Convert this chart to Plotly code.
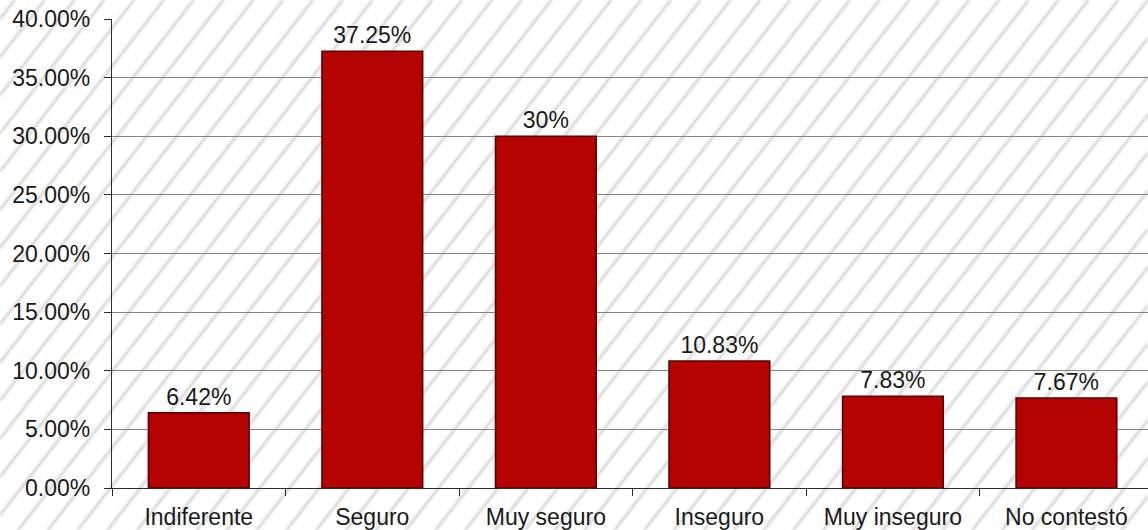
import base64
import plotly.graph_objects as go

categories = ["Indiferente", "Seguro", "Muy seguro", "Inseguro", "Muy inseguro", "No contestó"]
values = [6.42, 37.25, 30.0, 10.83, 7.83, 7.67]
labels = ["6.42%", "37.25%", "30%", "10.83%", "7.83%", "7.67%"]
y_ticks = [0, 5, 10, 15, 20, 25, 30, 35, 40]
y_tick_text = ["0.00%", "5.00%", "10.00%", "15.00%", "20.00%", "25.00%", "30.00%", "35.00%", "40.00%"]

W, H = 1148, 530
ML, MR, MT, MB = 112, 0, 19, 42
PW, PH = W - ML - MR, H - MT - MB

svg = f'''<svg xmlns="http://www.w3.org/2000/svg" width="{W}" height="{H}">
<defs>
<filter id="b"><feGaussianBlur stdDeviation="0.8"/></filter>
<pattern id="p" patternUnits="userSpaceOnUse" width="23.5" height="23.5" patternTransform="rotate(38)">
<rect x="10.5" y="-2" width="2.2" height="28" fill="#cdcdcd"/>
</pattern>
</defs>
<rect width="{W}" height="{H}" fill="#ffffff"/>
<rect width="{W}" height="{H}" fill="url(#p)" filter="url(#b)"/>
</svg>'''
src = "data:image/svg+xml;base64," + base64.b64encode(svg.encode()).decode()

FONT = "Liberation Sans, Arial"

fig = go.Figure()
fig.add_trace(go.Bar(
    x=categories,
    y=values,
    text=labels,
    textposition="outside",
    textfont=dict(family=FONT, size=23, color="#1a1a1a"),
    cliponaxis=False,
    width=0.58,
    marker=dict(color="#b30303", line=dict(color="#5e0000", width=1.6)),
    hoverinfo="x+y",
))

fig.update_layout(
    width=W, height=H,
    margin=dict(l=ML, r=MR, t=MT, b=MB, pad=0),
    paper_bgcolor="#ffffff",
    plot_bgcolor="rgba(0,0,0,0)",
    showlegend=False,
    font=dict(family=FONT, size=23, color="#1a1a1a"),
    images=[dict(
        source=src, xref="paper", yref="paper",
        x=-ML / PW, y=1 + MT / PH, sizex=W / PW, sizey=H / PH,
        xanchor="left", yanchor="top", sizing="stretch", layer="below",
    )],
    xaxis=dict(
        range=[-0.5, 5.47],
        showgrid=False,
        showline=True, linecolor="#2a2a2a", linewidth=1.3,
        ticks="outside", tickson="boundaries", ticklen=7, tickcolor="#2a2a2a",
        tickfont=dict(family=FONT, size=23, color="#1a1a1a"),
        ticklabelstandoff=8,
    ),
    yaxis=dict(
        range=[0, 40],
        tickvals=y_ticks, ticktext=y_tick_text,
        showgrid=True, gridcolor="#858585", gridwidth=1,
        showline=True, linecolor="#2a2a2a", linewidth=1.3,
        ticks="outside", ticklen=7, tickcolor="#2a2a2a",
        tickfont=dict(family=FONT, size=23, color="#1a1a1a"),
        ticklabelstandoff=9,
        zeroline=False,
    ),
)

fig.write_html(
    "out.html",
    config={"displayModeBar": False},
    post_script="document.body.style.margin='0';document.body.style.overflow='hidden';",
)
